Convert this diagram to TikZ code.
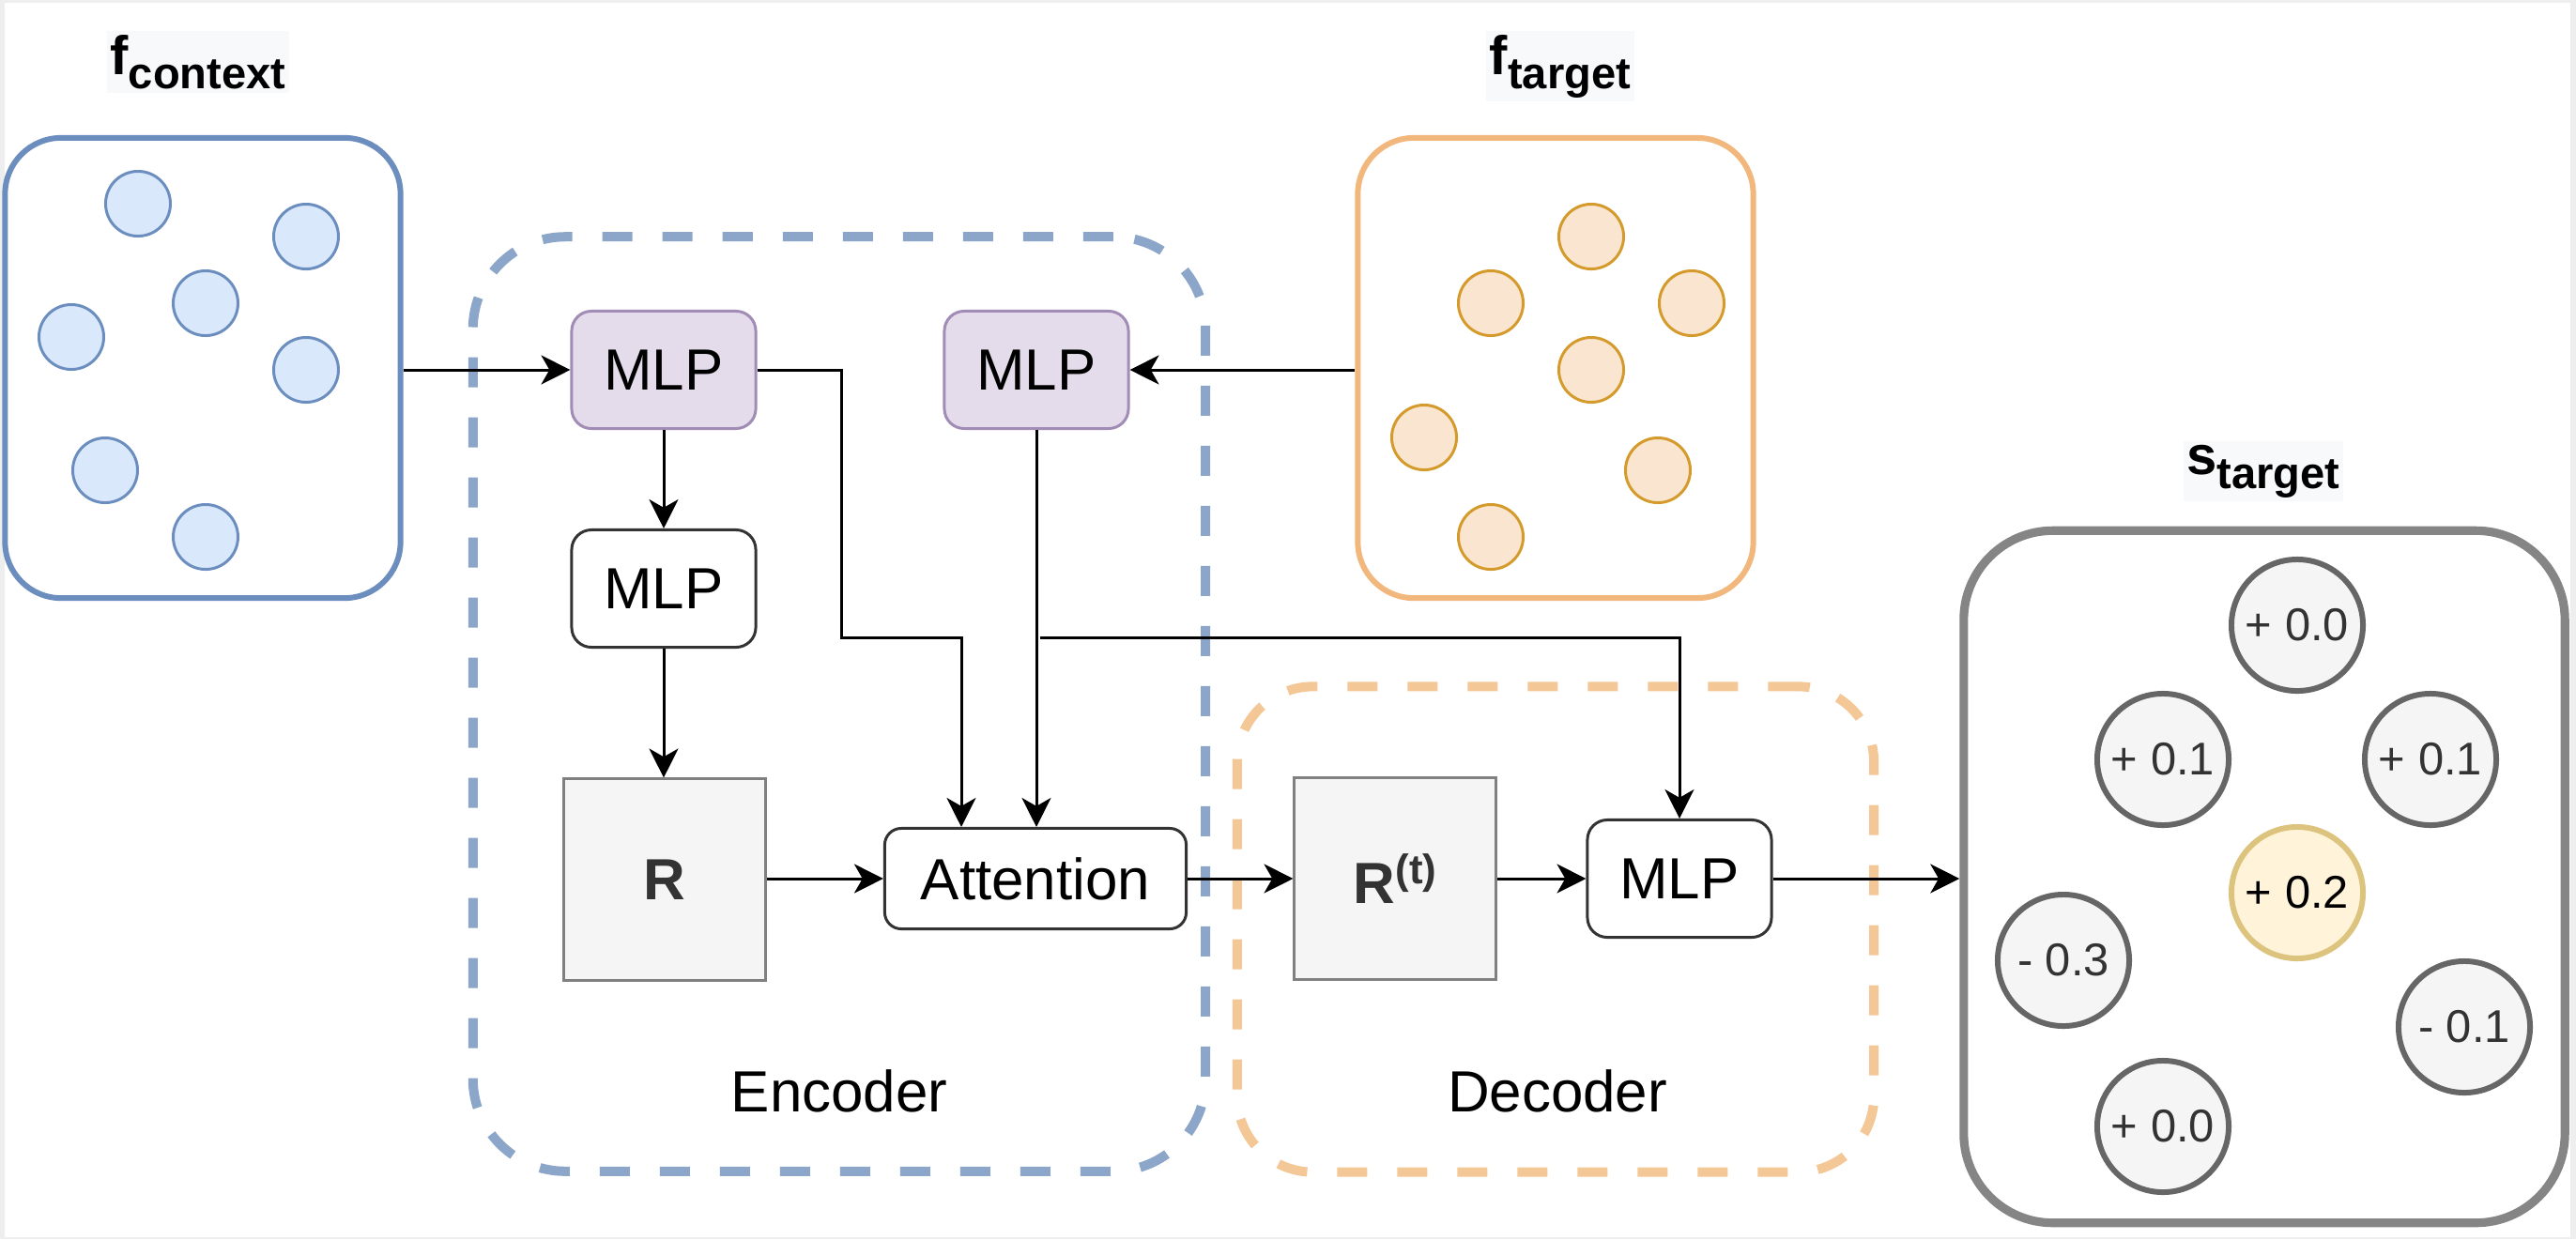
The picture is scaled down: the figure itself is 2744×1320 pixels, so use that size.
\documentclass[tikz,border=0pt]{standalone}
\usepackage{fontspec}
\setmainfont{Liberation Sans}
\usepackage{tikz}
\usetikzlibrary{arrows.meta}

\definecolor{ctxblue}{HTML}{6C8EBF}
\definecolor{ctxfill}{HTML}{DAE8FC}
\definecolor{tgtorange}{HTML}{F1B77C}
\definecolor{tgtfill}{HTML}{FAE6D0}
\definecolor{tgtring}{HTML}{D49B2C}
\definecolor{encblue}{HTML}{8CA6CA}
\definecolor{decorange}{HTML}{F4C797}
\definecolor{mlpfill}{HTML}{E4DCEA}
\definecolor{mlpline}{HTML}{A08CB5}
\definecolor{repfill}{HTML}{F5F5F5}
\definecolor{repline}{HTML}{808080}
\definecolor{scoreline}{HTML}{666666}
\definecolor{scorebox}{HTML}{858585}
\definecolor{bestfill}{HTML}{FFF4D9}
\definecolor{bestline}{HTML}{DDC47E}
\definecolor{textdark}{HTML}{333333}
\definecolor{titlebg}{HTML}{F8F9FA}
\definecolor{framegray}{HTML}{EEEEEE}

\newcommand{\settitle}[2]{{\fontsize{16.5}{18}\selectfont\bfseries #1}\raisebox{-4.5pt}{\fontsize{13.4}{16}\selectfont\bfseries #2}}

\begin{document}
\begin{tikzpicture}[x=0.01cm,y=-0.01cm,
    every node/.style={font=\fontsize{17.6}{20}\selectfont},
    arr/.style={line width=0.85pt,-{Stealth[length=8.8pt,width=8.8pt,inset=2.5pt]}},
    dot/.style={circle,minimum size=0.69cm,inner sep=0pt,line width=0.85pt},
    ctxdot/.style={dot,draw=ctxblue,fill=ctxfill},
    tgtdot/.style={dot,draw=tgtring,fill=tgtfill},
    setbox/.style={draw,fill=white,rounded corners=17pt,line width=1.7pt,minimum width=4.21cm,minimum height=4.9cm},
    settitle/.style={fill=titlebg,inner sep=1pt,anchor=base},
    dashframe/.style={line width=2.85pt,dash pattern=on 9.1pt off 9.1pt},
    mlp/.style={draw=textdark,fill=white,rounded corners=6pt,line width=0.85pt,minimum width=1.96cm,minimum height=1.25cm,inner sep=0pt},
    mlpin/.style={mlp,draw=mlpline,fill=mlpfill},
    rep/.style={draw=repline,fill=repfill,line width=0.85pt,minimum size=2.14cm,inner sep=0pt,text=textdark,font=\fontsize{17.6}{20}\selectfont\bfseries},
    score/.style={circle,draw=scoreline,fill=repfill,line width=1.7pt,minimum size=1.4cm,inner sep=0pt,text=textdark,font=\fontsize{13.9}{16}\selectfont}]

    % page
    \fill[framegray] (0,0) rectangle (2744,1320);
    \fill[white] (5,3) rectangle (2738,1318);

    % encoder / decoder frames
    \node[dashframe,draw=encblue,rounded corners=28pt,minimum width=7.8cm,minimum height=9.95cm] (enc) at (894,750) {};
    \node[dashframe,draw=decorange,rounded corners=23pt,minimum width=6.78cm,minimum height=5.17cm] (dec) at (1657,990) {};
    \node (enclabel) at (894,1162) {Encoder};
    \node (declabel) at (1659,1162) {Decoder};

    % context set
    \node[setbox,draw=ctxblue] (ctx) at (216,392) {};
    \node[settitle] (ctxtitle) at (211,79) {\settitle{f}{context}};
    \node[ctxdot] (c1) at (147,217) {};
    \node[ctxdot] (c2) at (326,252) {};
    \node[ctxdot] (c3) at (219,323) {};
    \node[ctxdot] (c4) at (76,359) {};
    \node[ctxdot] (c5) at (326,394) {};
    \node[ctxdot] (c6) at (112,501) {};
    \node[ctxdot] (c7) at (219,572) {};

    % target set
    \node[setbox,draw=tgtorange] (tgt) at (1657,392) {};
    \node[settitle] (tgttitle) at (1662,79) {\settitle{f}{target}};
    \node[tgtdot] (t1) at (1695,252) {};
    \node[tgtdot] (t2) at (1588,323) {};
    \node[tgtdot] (t3) at (1802,323) {};
    \node[tgtdot] (t4) at (1695,394) {};
    \node[tgtdot] (t5) at (1517,466) {};
    \node[tgtdot] (t6) at (1766,501) {};
    \node[tgtdot] (t7) at (1588,572) {};

    % scores
    \node[setbox,draw=scorebox,line width=2.6pt,rounded corners=27pt,minimum width=6.4cm,minimum height=7.37cm] (scores) at (2412,934) {};
    \node[settitle] (scoretitle) at (2411,505) {\settitle{s}{target}};
    \node[score] (s1) at (2447,666) {+ 0.0};
    \node[score] (s2) at (2304,809) {+ 0.1};
    \node[score] (s3) at (2589,809) {+ 0.1};
    \node[score,draw=bestline,fill=bestfill,text=black] (s4) at (2447,951) {+ 0.2};
    \node[score] (s5) at (2198,1023) {- 0.3};
    \node[score] (s6) at (2625,1094) {- 0.1};
    \node[score] (s7) at (2304,1200) {+ 0.0};

    % blocks
    \node[mlpin] (mlpa) at (707,394) {MLP};
    \node[mlpin] (mlpb) at (1104,394) {MLP};
    \node[mlp] (mlpc) at (707,627) {MLP};
    \node[rep] (repc) at (708,937) {R};
    \node[mlp,rounded corners=5pt,minimum width=3.21cm,minimum height=1.07cm] (att) at (1103,936) {Attention};
    \node[rep] (rept) at (1486,936) {R\raisebox{6pt}{\fontsize{12.5}{14}\selectfont (t)}};
    \node[mlp] (mlpd) at (1789,936) {MLP};

    % connectors
    \coordinate (kroute) at (1024,679);
    \coordinate (qsplit) at (1108,679);
    \draw[arr] (ctx.east |- mlpa.west) -- (mlpa.west);
    \draw[arr] (tgt.west |- mlpb.east) -- (mlpb.east);
    \draw[arr] (mlpa.south) -- (mlpc.north);
    \draw[arr] (mlpc.south) -- (mlpc.south |- repc.north);
    \draw[arr] (mlpa.east) -- ++(90,0) |- (kroute) -- (kroute |- att.north);
    \draw[arr] (mlpb.south) -- (mlpb.south |- att.north);
    \draw[arr] (qsplit) -| (mlpd.north);
    \draw[arr] (repc.east |- att.west) -- (att.west);
    \draw[arr] (att) -- (rept);
    \draw[arr] (rept) -- (mlpd);
    \draw[arr] (mlpd.east) -- (mlpd.east -| scores.west);
\end{tikzpicture}
\end{document}
